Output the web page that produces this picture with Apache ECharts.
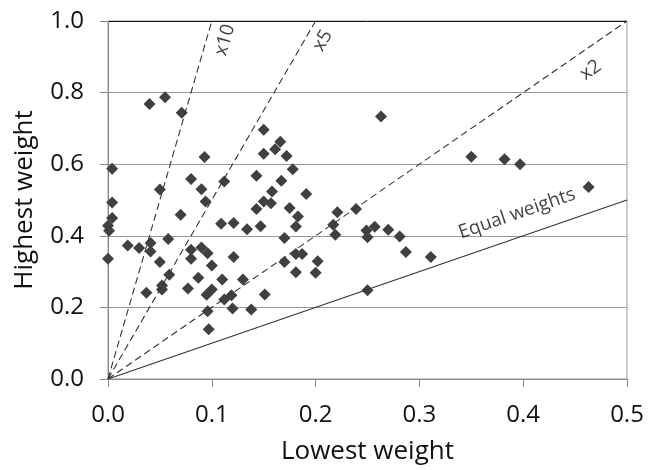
<!DOCTYPE html>
<html>
<head>
<meta charset="utf-8">
<script src="https://cdn.jsdelivr.net/npm/echarts@6/dist/echarts.min.js"></script>
<style>
  html, body { margin: 0; padding: 0; background: #fff; }
  #chart { width: 648px; height: 470px; }
</style>
</head>
<body>
<div id="chart"></div>
<script>
// lowest weight (x) / highest weight (y)
const lowestWeight = [
  0.040, 0.055, 0.071, 0.093, 0.004, 0.080, 0.050, 0.090, 0.112, 0.094,
  0.004, 0.004, 0.070, 0.000, 0.001, 0.109, 0.058, 0.019, 0.030, 0.041,
  0.041, 0.000, 0.050, 0.080, 0.090, 0.096, 0.080, 0.100, 0.059, 0.087,
  0.110, 0.052, 0.052, 0.077, 0.037, 0.095, 0.100, 0.112, 0.096, 0.097,
  0.150, 0.166, 0.161, 0.150, 0.172, 0.178, 0.143, 0.167, 0.158, 0.191,
  0.150, 0.157, 0.143, 0.175, 0.183, 0.121, 0.134, 0.147, 0.181, 0.170,
  0.121, 0.181, 0.187, 0.170, 0.202, 0.181, 0.200, 0.130, 0.119, 0.151,
  0.120, 0.138, 0.263, 0.350, 0.382, 0.397, 0.463, 0.221, 0.239, 0.217,
  0.219, 0.249, 0.257, 0.250, 0.270, 0.281, 0.287, 0.311, 0.250
];
const highestWeight = [
  0.768, 0.787, 0.744, 0.620, 0.587, 0.559, 0.529, 0.530, 0.552, 0.496,
  0.493, 0.450, 0.459, 0.428, 0.414, 0.434, 0.391, 0.373, 0.366, 0.380,
  0.356, 0.336, 0.327, 0.361, 0.367, 0.351, 0.336, 0.317, 0.291, 0.283,
  0.278, 0.261, 0.250, 0.253, 0.241, 0.235, 0.250, 0.222, 0.189, 0.139,
  0.696, 0.663, 0.642, 0.629, 0.623, 0.586, 0.568, 0.554, 0.524, 0.517,
  0.496, 0.491, 0.475, 0.478, 0.454, 0.436, 0.418, 0.427, 0.426, 0.394,
  0.341, 0.349, 0.349, 0.327, 0.329, 0.298, 0.297, 0.278, 0.234, 0.236,
  0.197, 0.194, 0.733, 0.621, 0.614, 0.600, 0.536, 0.466, 0.475, 0.431,
  0.403, 0.415, 0.425, 0.396, 0.417, 0.398, 0.355, 0.341, 0.248
];

// reference lines from the origin: highest = ratio * lowest
const ratioNames = ['x10', 'x5', 'x2', 'Equal weights'];
const ratioEndX = [0.1, 0.2, 0.5, 0.5];
const ratioEndY = [1.0, 1.0, 1.0, 0.5];

const xTicks = [0, 0.1, 0.2, 0.3, 0.4, 0.5];
const yTicks = [0, 0.2, 0.4, 0.6, 0.8, 1.0];

const FONT = '"Open Sans", sans-serif';

// where each line's label sits (data coords) and its tilt
const labelAt = [[0.1126, 0.947], [0.207, 0.945], [0.465, 0.862], [0.394, 0.462]];
const labelRot = [74, 60, 35, 19];

let points = lowestWeight.map((x, i) => [x, highestWeight[i]]);

let lineSeries = ratioNames.map((name, i) => ({
  name: name,
  type: 'line',
  data: [[0, 0], [ratioEndX[i], ratioEndY[i]]],
  symbol: 'none',
  silent: true,
  z: 3,
  lineStyle: {
    color: '#333',
    width: 1.1,
    type: i < 3 ? [7, 4] : 'solid'
  }
}));

let labelSeries = {
  type: 'scatter',
  silent: true,
  symbolSize: 1,
  itemStyle: { color: 'rgba(0,0,0,0)' },
  data: labelAt.map((p, i) => ({
    value: p,
    label: { rotate: labelRot[i] }
  })),
  label: {
    show: true,
    position: 'inside',
    formatter: p => ratioNames[p.dataIndex],
    fontFamily: FONT,
    fontSize: 19,
    color: '#111'
  },
  z: 4
};

let chart = echarts.init(document.getElementById('chart'));
chart.setOption({
  animation: false,
  backgroundColor: '#fff',
  grid: {
    left: 108, right: 21, top: 21, bottom: 90,
    show: true,
    borderColor: '#999',
    borderWidth: 1
  },
  xAxis: {
    type: 'value',
    min: xTicks[0],
    max: xTicks[xTicks.length - 1],
    interval: 0.1,
    name: 'Lowest weight',
    nameLocation: 'middle',
    nameGap: 60,
    nameTextStyle: { fontFamily: FONT, fontSize: 26, color: '#111' },
    axisLine: { show: true, lineStyle: { color: '#888', width: 1 } },
    axisTick: { show: true, length: 8, lineStyle: { color: '#888' } },
    axisLabel: {
      margin: 24,
      fontFamily: FONT,
      fontSize: 24,
      color: '#111',
      formatter: v => v.toFixed(1)
    },
    splitLine: { show: false }
  },
  yAxis: {
    type: 'value',
    min: yTicks[0],
    max: yTicks[yTicks.length - 1],
    interval: 0.2,
    name: 'Highest weight',
    nameLocation: 'middle',
    nameGap: 70,
    nameTextStyle: { fontFamily: FONT, fontSize: 26, color: '#111' },
    axisLine: { show: true, lineStyle: { color: '#888', width: 1 } },
    axisTick: { show: true, length: 8, lineStyle: { color: '#888' } },
    axisLabel: {
      margin: 24,
      fontFamily: FONT,
      fontSize: 24,
      color: '#111',
      formatter: v => v.toFixed(1)
    },
    splitLine: {
      show: true,
      lineStyle: { color: ['#999', '#999', '#999', '#999', '#999', '#111'], width: 1 }
    }
  },
  series: [{
    name: 'Portfolios',
    type: 'scatter',
    data: points,
    symbol: 'diamond',
    symbolSize: 12,
    itemStyle: { color: '#404040', opacity: 1 },
    z: 2
  }].concat(lineSeries, [labelSeries])
});
</script>
</body>
</html>
